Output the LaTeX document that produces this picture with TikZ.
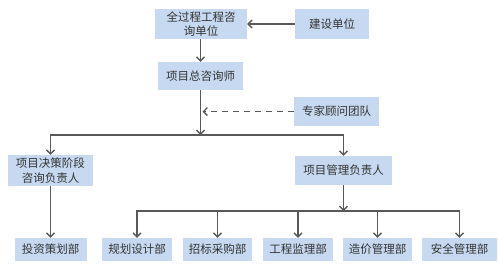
\documentclass[tikz,border=0pt]{standalone}
\usepackage{fontspec}
\setmainfont{Noto Sans CJK SC}
\usetikzlibrary{arrows.meta}
\definecolor{boxblue}{HTML}{C6D9F0}
\definecolor{linegray}{HTML}{595959}
\definecolor{txtgray}{HTML}{333333}
\tikzset{
  unit/.style={fill=boxblue,text=txtgray,inner sep=0pt,align=center,
    font=\fontsize{11.5}{14.5}\selectfont},
  wire/.style={draw=linegray,line width=1.3pt},
  link/.style={wire,-{Straight Barb[length=4pt,width=8pt]}},
  twolink/.style={wire,{Straight Barb[length=4pt,width=8pt]}-{Straight Barb[length=4pt,width=8pt]}},
}

\begin{document}
\begin{tikzpicture}[x=1pt,y=-1pt]
\useasboundingbox (0,0) rectangle (498,266);
\node[unit,minimum width=92pt,minimum height=30pt] (qc) at (201,24) {全过程工程咨\\询单位};
\node[unit,minimum width=74pt,minimum height=30pt] (js) at (332,24) {建设单位};
\node[unit,minimum width=85pt,minimum height=28pt] (zx) at (200.5,76) {项目总咨询师};
\node[unit,minimum width=85pt,minimum height=29pt] (gw) at (336.5,111.5) {专家顾问团队};
\node[unit,minimum width=85pt,minimum height=31pt] (jc) at (50.5,170.5) {项目决策阶段\\咨询负责人};
\node[unit,minimum width=97pt,minimum height=29pt] (gl) at (343.5,170.5) {项目管理负责人};
\foreach \nm/\x/\w/\t in {tz/50.5/72/投资策划部,gh/137/70/规划设计部,zb/217.5/69/招标采购部,
    gc/298/70/工程监理部,zj/377.5/69/造价管理部,aq/459.5/75/安全管理部}{
  \node[unit,minimum width=\w pt,minimum height=23pt] (\nm) at (\x,249.5) {\t};}
\coordinate (b1) at (200.5,135);
\coordinate (b2) at (343.5,211);
\coordinate (d1) at (202.5,111.5);
\draw[link] (js) -- (qc);
\draw[link] (qc.south -| zx) -- (zx);
\draw[link] (zx) -- (b1);
\draw[link,dash pattern=on 6pt off 5pt] (gw) -- (d1);
\draw[twolink] (jc.north) -- (jc |- b1) -- (gl |- b1) -- (gl.north);
\draw[link] (jc) -- (tz);
\draw[link] (gl) -- (b2);
\draw[twolink] (gh.north) -- (gh |- b2) -- (aq |- b2) -- (aq.north);
\foreach \nm in {zb,gc,zj}{\draw[link] (\nm |- b2) -- (\nm);}
\end{tikzpicture}
\end{document}
